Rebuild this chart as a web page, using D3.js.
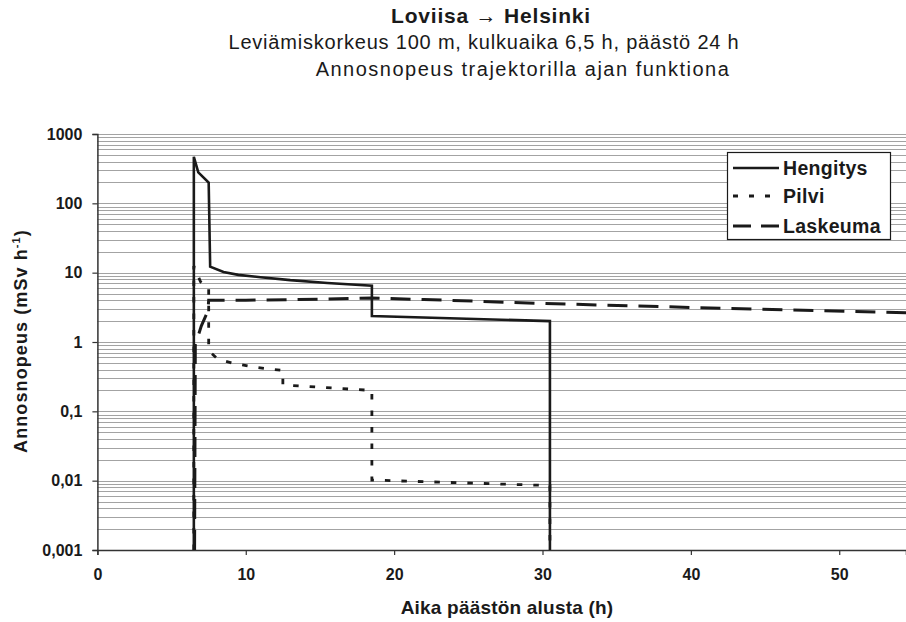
<!DOCTYPE html>
<html>
<head>
<meta charset="utf-8">
<script src="https://cdn.jsdelivr.net/npm/d3@7"></script>
<style>
  html, body { margin: 0; padding: 0; background: #fff; }
  svg { display: block; font-family: "Liberation Sans", Arial, Helvetica, sans-serif; }
</style>
</head>
<body>
<svg id="chart" width="906" height="622"></svg>
<script>
// Dose rate along the Loviisa -> Helsinki trajectory (mSv/h) vs. time from release start (h)
const hengitysTime = [6.5, 6.5, 6.8, 7.5, 7.6, 8.5, 9.5, 11, 13, 15.5, 18.5, 18.5, 30.5, 30.5];
const hengitysDose = [0.001, 470, 280, 200, 12.2, 10.2, 9.3, 8.6, 7.8, 7.1, 6.5, 2.37, 2.0, 0.001];

const pilviTime = [6.5, 6.5, 6.95, 7.2, 7.5, 7.5, 8.1, 9.2, 10.4, 11.5, 12.5, 12.5, 18.5, 18.5, 30.5, 30.5];
const pilviDose = [0.001, 12.5, 7.4, 6.6, 6.3, 0.75, 0.57, 0.49, 0.44, 0.41, 0.39, 0.24, 0.2, 0.0102, 0.0085, 0.001];

const laskeumaTime = [6.55, 6.6, 7.0, 7.45, 7.5, 10, 15, 18.5, 22, 30, 40, 54.5];
const laskeumaDose = [0.001, 0.9, 1.7, 2.8, 4.0, 4.0, 4.15, 4.3, 4.1, 3.6, 3.15, 2.65];

const xTicks = [0, 10, 20, 30, 40, 50];
const yTicks = [1000, 100, 10, 1, 0.1, 0.01, 0.001];
const yTickLabels = ["1000", "100", "10", "1", "0,1", "0,01", "0,001"];

const seriesNames = ["Hengitys", "Pilvi", "Laskeuma"];

const titleText = "Loviisa \u2192 Helsinki";
const subtitle1 = "Leviämiskorkeus 100 m, kulkuaika 6,5 h, päästö 24 h";
const subtitle2 = "Annosnopeus trajektorilla ajan funktiona";

const svg = d3.select("#chart");
const plotLeft = 97.4, plotRight = 906, plotTop = 134, plotBottom = 550;

const x = d3.scaleLinear().domain([0, 54.5]).range([plotLeft, plotRight]);
const y = d3.scaleLog().domain([0.001, 1000]).range([plotBottom, plotTop]);

// Titles
svg.append("text").attr("x", 491).attr("y", 23).attr("text-anchor", "middle")
  .style("font-weight", "bold").style("font-size", "21px").style("letter-spacing", "0.8px")
  .attr("fill", "#1a1a1a").text(titleText);
svg.append("text").attr("x", 484).attr("y", 49).attr("text-anchor", "middle")
  .style("font-size", "20px").style("letter-spacing", "0.8px")
  .attr("fill", "#1a1a1a").text(subtitle1);
svg.append("text").attr("x", 523).attr("y", 76).attr("text-anchor", "middle")
  .style("font-size", "20px").style("letter-spacing", "1.5px")
  .attr("fill", "#1a1a1a").text(subtitle2);

// Log gridlines: every 1..9 x 10^k
const gridVals = [];
for (let e = -3; e < 3; e++) {
  for (let k = 1; k <= 9; k++) gridVals.push(k * Math.pow(10, e));
}
gridVals.push(1000);
svg.append("g").selectAll("line").data(gridVals).join("line")
  .attr("x1", plotLeft).attr("x2", plotRight)
  .attr("y1", d => Math.round(y(d)) + 0.5).attr("y2", d => Math.round(y(d)) + 0.5)
  .attr("stroke", "#a3a3a3").attr("stroke-width", 1);

// Axes
const xAxis = d3.axisBottom(x).tickValues(xTicks).tickSize(5).tickPadding(14).tickFormat(d3.format("d"));
const gx = svg.append("g").attr("transform", `translate(0,${plotBottom})`).call(xAxis);
gx.select(".domain").attr("stroke", "#333").attr("stroke-width", 1.5);
gx.selectAll(".tick line").attr("stroke", "#333").attr("stroke-width", 1.2);
gx.selectAll(".tick text").style("font-size", "16px").style("font-weight", "bold").attr("fill", "#1a1a1a");

const yAxis = d3.axisLeft(y).tickValues(yTicks).tickSize(5).tickPadding(10)
  .tickFormat((d, i) => yTickLabels[i]);
const gy = svg.append("g").attr("transform", `translate(${plotLeft},0)`).call(yAxis);
gy.select(".domain").attr("stroke", "#333").attr("stroke-width", 1.5);
gy.selectAll(".tick line").attr("stroke", "#333").attr("stroke-width", 1.2);
gy.selectAll(".tick text").style("font-size", "16px").style("font-weight", "bold")
  .attr("fill", "#1a1a1a");

// Axis titles
svg.append("text").attr("x", 507).attr("y", 614).attr("text-anchor", "middle")
  .style("font-weight", "bold").style("font-size", "19px").style("letter-spacing", "0.2px")
  .attr("fill", "#1a1a1a").text("Aika päästön alusta (h)");

const yTitle = svg.append("text").attr("transform", "translate(27,341) rotate(-90)")
  .attr("text-anchor", "middle").style("font-weight", "bold").style("font-size", "18px")
  .style("letter-spacing", "1.1px").attr("fill", "#1a1a1a");
yTitle.append("tspan").text("Annosnopeus (mSv h");
yTitle.append("tspan").attr("dy", -7).style("font-size", "11px").text("-1");
yTitle.append("tspan").attr("dy", 7).text(")");

// Series
svg.append("clipPath").attr("id", "plotClip").append("rect")
  .attr("x", plotLeft).attr("y", plotTop - 20).attr("width", plotRight - plotLeft).attr("height", plotBottom - plotTop + 21);

const line = d3.line().x(d => x(d[0])).y(d => y(d[1]));
const zip = (t, v) => t.map((d, i) => [d, v[i]]);

const series = [
  { name: seriesNames[0], data: zip(hengitysTime, hengitysDose), dash: null, width: 2.6 },
  { name: seriesNames[1], data: zip(pilviTime, pilviDose), dash: "5.5,11", width: 2.8 },
  { name: seriesNames[2], data: zip(laskeumaTime, laskeumaDose), dash: "20,11", width: 3 }
];

const plot = svg.append("g").attr("clip-path", "url(#plotClip)");
plot.selectAll("path").data(series.slice().reverse()).join("path")
  .attr("d", d => line(d.data))
  .attr("fill", "none").attr("stroke", "#1a1a1a")
  .attr("stroke-width", d => d.width)
  .attr("stroke-dasharray", d => d.dash)
  .attr("stroke-linejoin", "miter");

// Legend
const lg = svg.append("g");
lg.append("rect").attr("x", 727.5).attr("y", 152.5).attr("width", 163).attr("height", 87)
  .attr("fill", "#fff").attr("stroke", "#1a1a1a").attr("stroke-width", 1.2);
const rowY = [168, 196, 226];
series.forEach((s, i) => {
  lg.append("line").attr("x1", 733).attr("x2", 779).attr("y1", rowY[i]).attr("y2", rowY[i])
    .attr("stroke", "#1a1a1a").attr("stroke-width", s.width)
    .attr("stroke-dasharray", i === 1 ? "5,11" : (i === 2 ? "18,10" : null));
  lg.append("text").attr("x", 783).attr("y", rowY[i]).attr("dy", "0.36em")
    .style("font-weight", "bold").style("font-size", "19.5px").style("letter-spacing", "0.3px")
    .attr("fill", "#1a1a1a").text(s.name);
});
</script>
</body>
</html>
